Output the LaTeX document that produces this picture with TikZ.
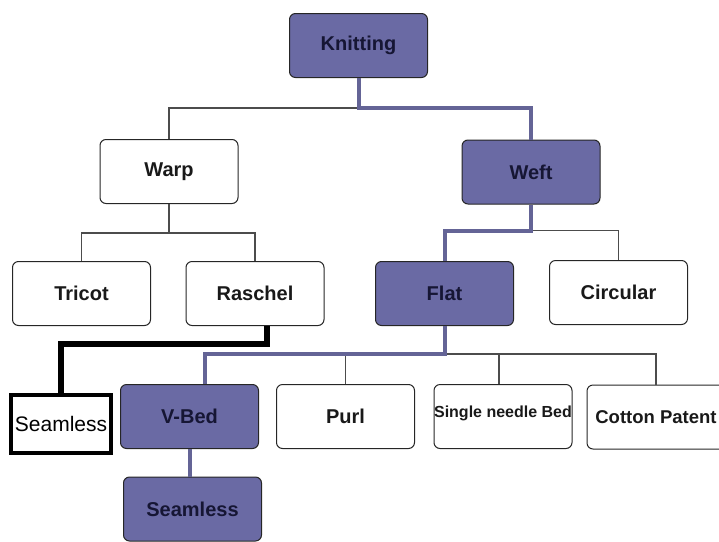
\documentclass[tikz,border=0pt]{standalone}
\usepackage{fontspec}
\setmainfont{Liberation Sans}
\definecolor{lav}{RGB}{106,106,164}
\definecolor{lavline}{RGB}{100,100,150}
\definecolor{ink}{RGB}{22,22,52}

\begin{document}
\begin{tikzpicture}[x=1pt,y=-1pt,
		box/.style={draw=black!85,line width=1pt,rounded corners=6pt,minimum width=138pt,minimum height=64pt,
			inner sep=0pt,font=\fontsize{20}{24}\selectfont\bfseries,text=black!90},
		pick/.style={box,fill=lav,text=ink},
		twig/.style={draw=black!70,line width=1.4pt},
		route/.style={draw=lavline,line width=4pt},
		mark box/.style={draw=black,line width=4pt,minimum width=100pt,minimum height=58pt,
			inner sep=0pt,font=\fontsize{21}{24}\selectfont}]
		\useasboundingbox (0,0) rectangle (719,541);
		\clip (0,0) rectangle (719,541);
		% top level
		\node[pick](knit) at (358.5,45.5){Knitting};
		\node[box](warp) at (169,171.5){Warp};
		\node[pick](weft) at (531,172){Weft};
		% second level
		\node[box](tricot) at (81.5,293.5){Tricot};
		\node[box](raschel) at (255,293.5){Raschel};
		\node[pick](flat) at (444.5,293.5){Flat};
		\node[box](circ) at (618.5,292.5){Circular};
		% third level
		\node[mark box](seamA) at (61,424){Seamless};
		\node[pick](vbed) at (189.5,416.5){V-Bed};
		\node[box](purl) at (345.5,416.5){Purl};
		\node[box,font=\fontsize{16}{19}\selectfont\bfseries](single) at (503,416.5){\raisebox{9pt}{Single needle Bed}};
		\node[box,font=\fontsize{18.5}{22}\selectfont\bfseries](cotton) at (656,417){Cotton Patent};
		\node[pick](seamB) at (192.5,509){Seamless};
		% connectors
		\draw[twig] (knit.south) -- ++(0,30) -| (warp.north);
		\draw[route] (knit.south) -- ++(0,30) -| (weft.north);
		\draw[twig] (warp.south) -- ++(0,29) -| (tricot.north);
		\draw[twig] (warp.south) -- ++(0,29) -| (raschel.north);
		\draw[twig] (weft.south) -- ++(0,26) -| (circ.north);
		\draw[route] (weft.south) -- ++(0,26) -| (flat.north);
		\draw[twig] (flat.south) -- ++(0,28) -| (purl.north);
		\draw[twig] (flat.south) -- ++(0,28) -| ([xshift=-4pt]single.north);
		\draw[twig] (flat.south) -- ++(0,28) -| (cotton.north);
		\draw[route] (flat.south) -- ++(0,28) -| ([xshift=15pt]vbed.north);
		\draw[route] (vbed.south) -- (vbed.south |- seamB.north);
		\draw[line width=6pt] ([xshift=12pt]raschel.south) -- ++(0,18) -| (seamA.north);
	\end{tikzpicture}
\end{document}
